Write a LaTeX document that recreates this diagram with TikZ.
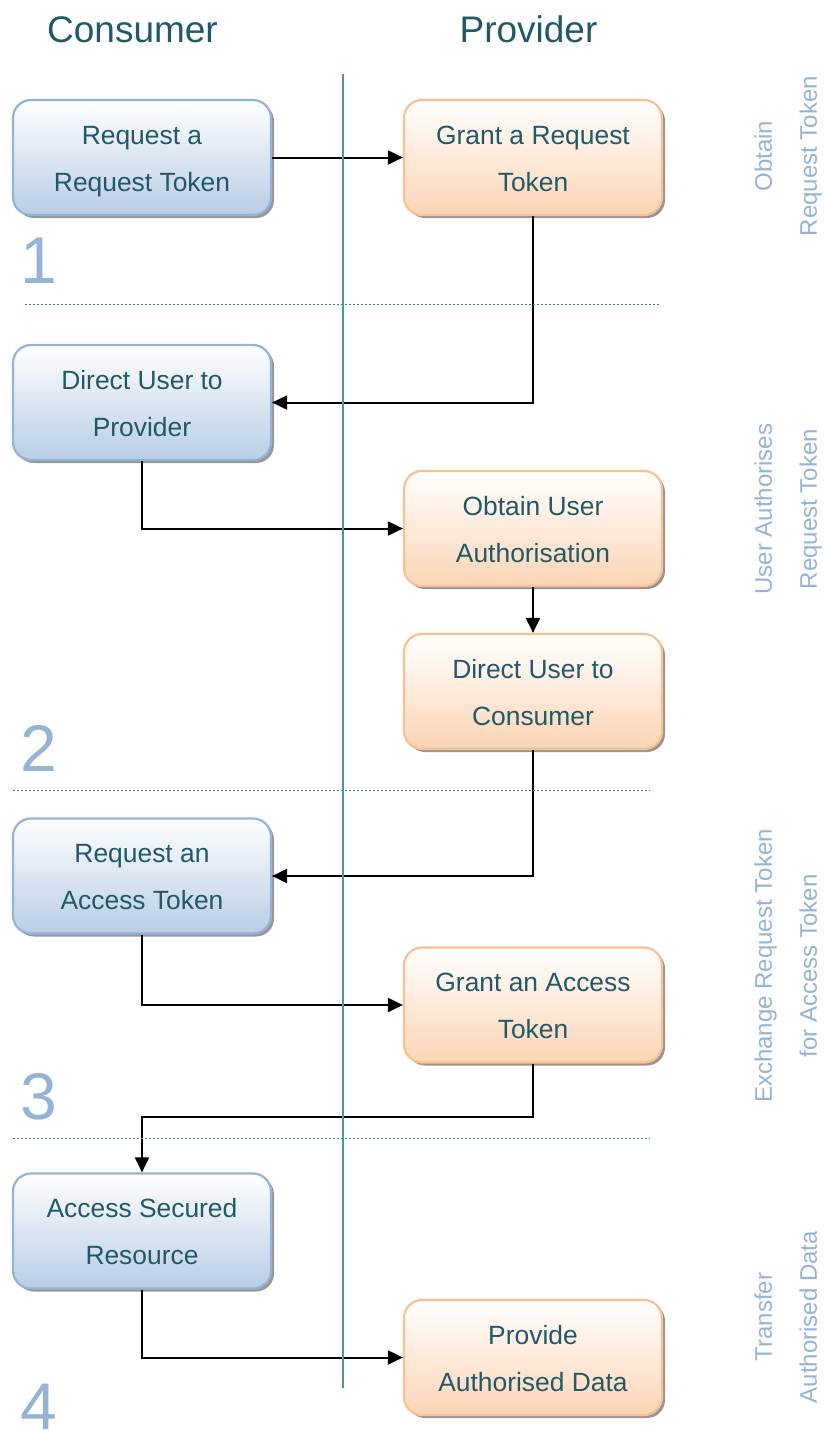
\documentclass[tikz,border=0pt]{standalone}
\usepackage{fontspec}
\setmainfont{Liberation Sans}
\usetikzlibrary{arrows.meta,shadows}

\definecolor{ink}{HTML}{215968}
\definecolor{phase}{HTML}{95B3D7}
\definecolor{blueedge}{HTML}{95B3D7}
\definecolor{bluefill}{HTML}{B9CDE5}
\definecolor{orangeedge}{HTML}{FAC090}
\definecolor{orangefill}{HTML}{FBD5B5}
\definecolor{lane}{HTML}{4E93A8}
\definecolor{sep}{HTML}{31859C}

% two-line step caption with fixed line extents
\newcommand\steplines[2]{\rule{0pt}{25.9pt}#1\\#2\rule[-5.6pt]{0pt}{5.6pt}}
% two-line stage caption with fixed line extents
\newcommand\stagelines[2]{\rule{0pt}{21.7pt}#1\\#2\rule[-5.1pt]{0pt}{5.1pt}}

\begin{document}
\begin{tikzpicture}[x=1pt,y=-1pt,
  stepbox/.style={rounded corners=18pt, minimum width=258pt, minimum height=115pt,
    inner sep=0pt, line width=2.2pt, align=center, text=ink,
    font=\fontsize{26.4}{47}\selectfont,
    drop shadow={shadow xshift=3pt,shadow yshift=-3pt,fill=black!55,opacity=0.75}},
  consumer/.style={stepbox, draw=blueedge, top color=white, bottom color=bluefill},
  provider/.style={stepbox, draw=orangeedge, top color=white, bottom color=orangefill},
  flow/.style={line width=2pt, -{Triangle[length=15pt,width=14pt]}},
  head/.style={text=ink, font=\fontsize{37}{37}\selectfont, anchor=base, inner sep=0pt},
  stage/.style={rotate=90, text=phase, font=\fontsize{24}{45}\selectfont, align=center,
    inner sep=0pt},
  num/.style={text=phase, font=\fontsize{66}{66}\selectfont, anchor=base west, inner sep=0pt},
  divider/.style={sep, line width=0.9pt, dash pattern=on 2pt off 2pt}
]
\useasboundingbox (0,0) rectangle (824,1430);

% column headings
\node[head] (hc) at (132.5,42) {Consumer};
\node[head] (hp) at (528.5,42) {Provider};

% consumer steps
\node[consumer] (c1) at (142,157.5) {\steplines{Request a}{Request Token}};
\node[consumer] (c2) at (142,402.5) {\steplines{Direct User to}{Provider}};
\node[consumer] (c3) at (142,876) {\steplines{Request an}{Access Token}};
\node[consumer] (c4) at (142,1231) {\steplines{Access Secured}{Resource}};

% provider steps
\node[provider] (p1) at (533,157.5) {\steplines{Grant a Request}{Token}};
\node[provider] (p2) at (533,528.5) {\steplines{Obtain User}{Authorisation}};
\node[provider] (p3) at (533,691.5) {\steplines{Direct User to}{Consumer}};
\node[provider] (p4) at (533,1005) {\steplines{Grant an Access}{Token}};
\node[provider] (p5) at (533,1357.5) {\steplines{Provide}{Authorised Data}};

% stage numbers
\node[num] (n1) at (20,283) {1};
\node[num] (n2) at (20,771) {2};
\node[num] (n3) at (20,1119) {3};
\node[num] (n4) at (20,1429) {4};

% stage titles
\node[stage] (s1) at (786,156) {\stagelines{Obtain}{Request Token}};
\node[stage] (s2) at (786,509) {\stagelines{User Authorises}{Request Token}};
\node[stage] (s3) at (786,966) {\stagelines{Exchange Request Token}{for Access Token}};
\node[stage] (s4) at (786,1317) {\stagelines{Transfer}{Authorised Data}};

% message flow
\coordinate (k) at (0,1117);
\draw[flow] (c1) -- (p1);
\draw[flow] (p1.south) |- (c2.east);
\draw[flow] (c2.south) |- (p2.west);
\draw[flow] (p2) -- (p3);
\draw[flow] (p3.south) |- (c3.east);
\draw[flow] (c3.south) |- (p4.west);
\draw[flow] (p4.south) -- (p4.south |- k) -| (c4.north);
\draw[flow] (c4.south) |- (p5.west);

% swim lane divider and stage separators
\draw[lane, line width=1.8pt] (343,74) -- (343,1388);
\draw[divider] (25,304) -- (660,304);
\draw[divider] (13,790) -- (650,790);
\draw[divider] (13,1138) -- (650,1138);
\end{tikzpicture}
\end{document}
